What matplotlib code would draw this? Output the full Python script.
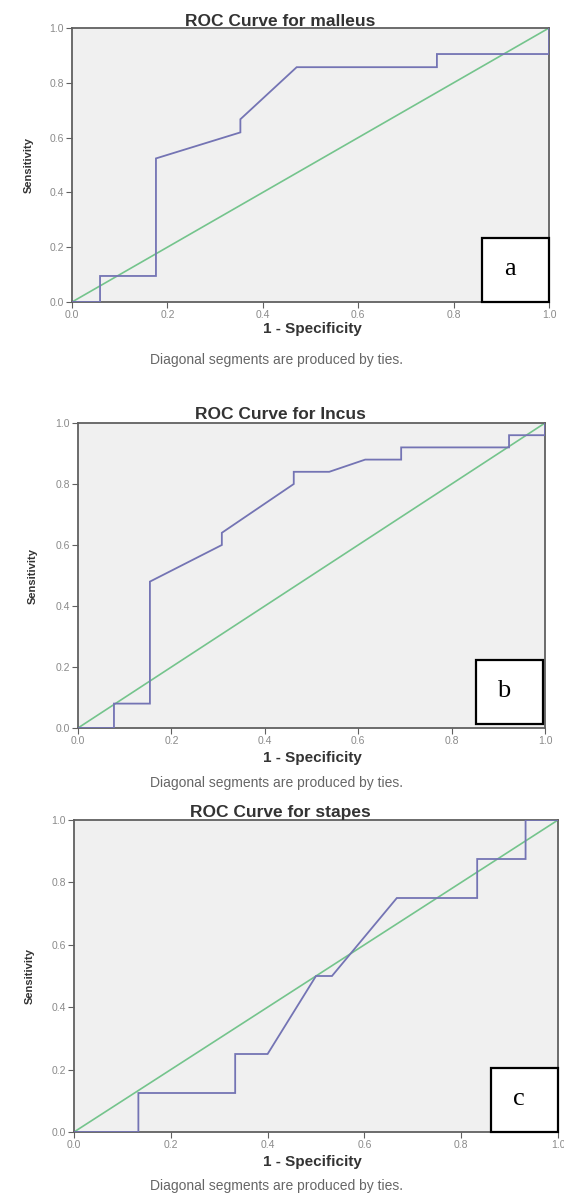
import matplotlib
matplotlib.use("Agg")
import matplotlib.pyplot as plt
from matplotlib.patches import Rectangle

# ---------------- data ----------------
titles = ["ROC Curve for malleus", "ROC Curve for Incus", "ROC Curve for stapes"]
panel_letters = ["a", "b", "c"]
tick_values = [0.0, 0.2, 0.4, 0.6, 0.8, 1.0]
tick_labels = ["0.0", "0.2", "0.4", "0.6", "0.8", "1.0"]

malleus_fpr = [0.0, 0.0588, 0.0588, 0.176, 0.176, 0.353, 0.353, 0.471, 0.765, 0.765, 1.0, 1.0]
malleus_tpr = [0.0, 0.0, 0.095, 0.095, 0.524, 0.619, 0.667, 0.857, 0.857, 0.905, 0.905, 1.0]

incus_fpr = [0.0, 0.077, 0.077, 0.154, 0.154, 0.308, 0.308, 0.462, 0.462, 0.538, 0.615, 0.692, 0.692, 0.923, 0.923, 1.0, 1.0]
incus_tpr = [0.0, 0.0, 0.08, 0.08, 0.48, 0.60, 0.64, 0.80, 0.84, 0.84, 0.88, 0.88, 0.92, 0.92, 0.96, 0.96, 1.0]

stapes_fpr = [0.0, 0.133, 0.133, 0.333, 0.333, 0.40, 0.50, 0.533, 0.667, 0.833, 0.833, 0.933, 0.933, 1.0]
stapes_tpr = [0.0, 0.0, 0.125, 0.125, 0.25, 0.25, 0.50, 0.50, 0.75, 0.75, 0.875, 0.875, 1.0, 1.0]

ref_x = [0.0, 1.0]
ref_y = [0.0, 1.0]

curves = [(malleus_fpr, malleus_tpr), (incus_fpr, incus_tpr), (stapes_fpr, stapes_tpr)]

# ---------------- layout (pixels) ----------------
W, H = 564, 1193
fig = plt.figure(figsize=(W / 100, H / 100), dpi=100)
fig.patch.set_facecolor("white")

# left, right, top, bottom in pixels
boxes_px = [(72, 549, 28, 302), (78, 545, 423, 728), (74, 558, 820, 1132)]
title_y = [21, 415, 812]
xlabel_y = [329, 758, 1162]
note_y = [360, 783, 1186]
ylabel_x = [29, 33, 30]
letter_boxes = [(0.86, 0.0, 0.14, 0.234), (0.852, 0.013, 0.144, 0.21), (0.862, 0.0, 0.138, 0.206)]

FONT = ["Liberation Sans", "DejaVu Sans"]
line_col = "#7474b4"
ref_col = "#74c48c"
bg_col = "#f0f0f0"
spine_col = "#606060"
text_col = "#333333"

def fx(x):
    return x / W

def fy(y):
    return 1 - y / H

for i in range(3):
    l, r, t, b = boxes_px[i]
    ax = fig.add_axes([fx(l), fy(b), (r - l) / W, (b - t) / H])
    ax.set_facecolor(bg_col)
    ax.set_xlim(0, 1)
    ax.set_ylim(0, 1)
    fpr, tpr = curves[i]
    ax.plot(ref_x, ref_y, color=ref_col, lw=1.2, zorder=2)
    ax.plot(fpr, tpr, color=line_col, lw=1.3, zorder=3, solid_joinstyle="miter")
    ax.set_xticks(tick_values)
    ax.set_yticks(tick_values)
    ax.set_xticklabels(tick_labels, family=FONT, fontsize=7.5, color="#8a8a8a")
    ax.set_yticklabels(tick_labels, family=FONT, fontsize=7.5, color="#8a8a8a")
    ax.tick_params(direction="out", length=4, width=0.8, color=spine_col, pad=2)
    for s in ax.spines.values():
        s.set_color(spine_col)
        s.set_linewidth(1.3)
    lx, ly, lw_, lh = letter_boxes[i]
    ax.add_patch(Rectangle((lx, ly), lw_, lh, transform=ax.transAxes, facecolor="white",
                           edgecolor="black", lw=1.6, zorder=5, clip_on=False))
    ax.text(lx + lw_ * 0.42, ly + lh * 0.52, panel_letters[i], transform=ax.transAxes,
            ha="center", va="center", fontsize=19, family=["Liberation Serif", "DejaVu Serif"],
            color="black", zorder=6)

    fig.text(fx(280), fy(title_y[i]), titles[i], ha="center", va="center",
             fontsize=12.5, fontweight="bold", family=FONT, color=text_col)
    fig.text(fx(312), fy(xlabel_y[i]), "1 - Specificity", ha="center", va="center",
             fontsize=11, fontweight="bold", family=FONT, color=text_col)
    fig.text(fx(276), fy(note_y[i]), "Diagonal segments are produced by ties.", ha="center",
             va="center", fontsize=10, family=FONT, color="#666666")
    fig.text(fx(ylabel_x[i]), fy((t + b) / 2), "Sensitivity", ha="center", va="center",
             rotation=90, fontsize=8, fontweight="bold", family=FONT, color=text_col)

fig.savefig("out.png", dpi=100, facecolor="white")
